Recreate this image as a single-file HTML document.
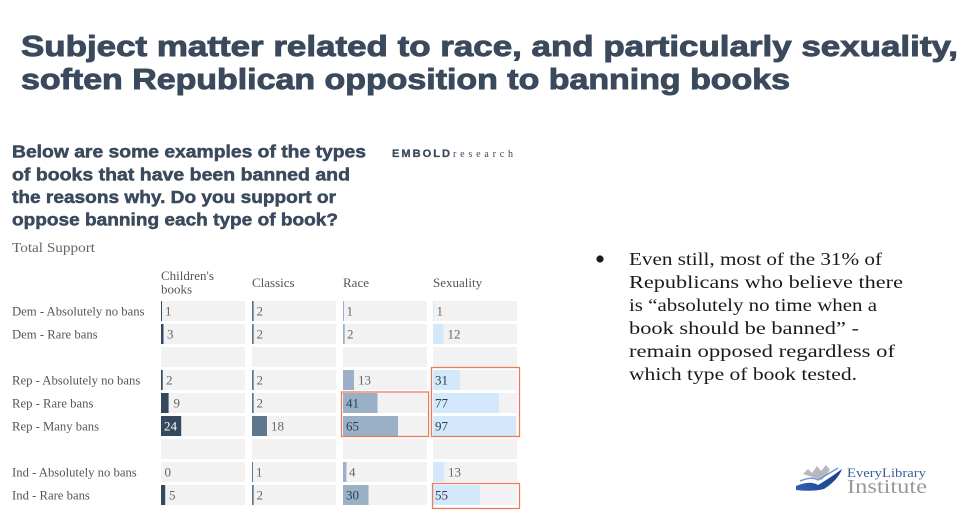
<!DOCTYPE html>
<html><head><meta charset="utf-8"><style>
html,body{margin:0;padding:0;background:#fff;width:974px;height:532px;overflow:hidden}
svg{display:block}
.t{font-family:"Liberation Sans",sans-serif;font-weight:bold;fill:#3a4a5c;stroke:#3a4a5c}
.s{font-family:"Liberation Serif",serif}
</style></head><body>
<svg width="974" height="532" viewBox="0 0 974 532" xmlns="http://www.w3.org/2000/svg">
<rect width="974" height="532" fill="#fff"/>
<!-- Title -->
<text class="t" x="21" y="56" font-size="28.5" stroke-width="0.9" textLength="937" lengthAdjust="spacingAndGlyphs">Subject matter related to race, and particularly sexuality,</text>
<text class="t" x="21" y="89" font-size="28.5" stroke-width="0.9" textLength="769" lengthAdjust="spacingAndGlyphs">soften Republican opposition to banning books</text>
<!-- Subtitle -->
<text class="t" x="12" y="157.5" font-size="17.5" stroke-width="0.5" textLength="354" lengthAdjust="spacingAndGlyphs">Below are some examples of the types</text>
<text class="t" x="12" y="180.5" font-size="17.5" stroke-width="0.5" textLength="338" lengthAdjust="spacingAndGlyphs">of books that have been banned and</text>
<text class="t" x="12" y="203" font-size="17.5" stroke-width="0.5" textLength="324" lengthAdjust="spacingAndGlyphs">the reasons why. Do you support or</text>
<text class="t" x="12" y="225.5" font-size="17.5" stroke-width="0.5" textLength="326" lengthAdjust="spacingAndGlyphs">oppose banning each type of book?</text>
<text class="s" x="12" y="252" font-size="14" fill="#666" textLength="83" lengthAdjust="spacingAndGlyphs">Total Support</text>
<!-- EMBOLD -->
<text x="392" y="157" font-family="Liberation Sans,sans-serif" font-weight="bold" font-size="11" fill="#3a4a5c" stroke="#3a4a5c" stroke-width="0.3" textLength="60" lengthAdjust="spacingAndGlyphs" letter-spacing="2">EMBOLD</text>
<text x="453" y="157" font-family="Liberation Serif,serif" font-size="10" fill="#3a4a5c" textLength="60" lengthAdjust="spacing">research</text>

<!-- Column headers -->
<g class="s" font-size="13" fill="#555">
<text x="161" y="280">Children's</text>
<text x="161" y="293.5">books</text>
<text x="252" y="287">Classics</text>
<text x="343" y="287">Race</text>
<text x="433" y="287">Sexuality</text>
</g>

<!-- Row labels -->
<g class="s" font-size="12.7" fill="#555">
<text x="12" y="315.5">Dem - Absolutely no bans</text>
<text x="12" y="338.5">Dem - Rare bans</text>
<text x="12" y="384.5">Rep - Absolutely no bans</text>
<text x="12" y="407.5">Rep - Rare bans</text>
<text x="12" y="430.5">Rep - Many bans</text>
<text x="12" y="476.5">Ind - Absolutely no bans</text>
<text x="12" y="499.5">Ind - Rare bans</text>
</g>

<!-- Cell backgrounds -->
<g fill="#f2f2f2">
<rect x="161" y="301" width="84" height="20"/><rect x="252" y="301" width="84" height="20"/><rect x="343" y="301" width="84" height="20"/><rect x="433" y="301" width="84" height="20"/>
<rect x="161" y="324" width="84" height="20"/><rect x="252" y="324" width="84" height="20"/><rect x="343" y="324" width="84" height="20"/><rect x="433" y="324" width="84" height="20"/>
<rect x="161" y="347" width="84" height="20"/><rect x="252" y="347" width="84" height="20"/><rect x="343" y="347" width="84" height="20"/><rect x="433" y="347" width="84" height="20"/>
<rect x="161" y="370" width="84" height="20"/><rect x="252" y="370" width="84" height="20"/><rect x="343" y="370" width="84" height="20"/><rect x="433" y="370" width="84" height="20"/>
<rect x="161" y="393" width="84" height="20"/><rect x="252" y="393" width="84" height="20"/><rect x="343" y="393" width="84" height="20"/><rect x="433" y="393" width="84" height="20"/>
<rect x="161" y="416" width="84" height="20"/><rect x="252" y="416" width="84" height="20"/><rect x="343" y="416" width="84" height="20"/><rect x="433" y="416" width="84" height="20"/>
<rect x="161" y="439" width="84" height="20"/><rect x="252" y="439" width="84" height="20"/><rect x="343" y="439" width="84" height="20"/><rect x="433" y="439" width="84" height="20"/>
<rect x="161" y="462" width="84" height="20"/><rect x="252" y="462" width="84" height="20"/><rect x="343" y="462" width="84" height="20"/><rect x="433" y="462" width="84" height="20"/>
<rect x="161" y="485" width="84" height="20"/><rect x="252" y="485" width="84" height="20"/><rect x="343" y="485" width="84" height="20"/><rect x="433" y="485" width="84" height="20"/>
</g>

<!-- Children's bars -->
<g fill="#35495e">
<rect x="161" y="301" width="1" height="20"/>
<rect x="161" y="324" width="2.5" height="20"/>
<rect x="161" y="370" width="1.7" height="20"/>
<rect x="161" y="393" width="7.6" height="20"/>
<rect x="161" y="416" width="20.2" height="20"/>
<rect x="161" y="485" width="4.2" height="20"/>
</g>
<!-- Classics bars -->
<g fill="#5f778c">
<rect x="252" y="301" width="1.7" height="20"/>
<rect x="252" y="324" width="1.7" height="20"/>
<rect x="252" y="370" width="1.7" height="20"/>
<rect x="252" y="393" width="1.7" height="20"/>
<rect x="252" y="416" width="15" height="20"/>
<rect x="252" y="462" width="1" height="20"/>
<rect x="252" y="485" width="1.7" height="20"/>
</g>
<!-- Race bars -->
<g fill="#9ab0c6">
<rect x="343" y="301" width="1" height="20"/>
<rect x="343" y="324" width="1.7" height="20"/>
<rect x="343" y="370" width="11" height="20"/>
<rect x="343" y="393" width="34.5" height="20"/>
<rect x="343" y="416" width="55" height="20"/>
<rect x="343" y="462" width="3.4" height="20"/>
<rect x="343" y="485" width="25.5" height="20"/>
</g>
<!-- Sexuality bars -->
<g fill="#d3e8fa">
<rect x="433" y="301" width="1" height="20"/>
<rect x="433" y="324" width="10.5" height="20"/>
<rect x="433" y="370" width="27" height="20"/>
<rect x="433" y="393" width="66" height="20"/>
<rect x="433" y="416" width="83" height="20"/>
<rect x="433" y="462" width="11" height="20"/>
<rect x="433" y="485" width="47" height="20"/>
</g>

<!-- Value labels outside (gray) -->
<g class="s" font-size="13" fill="#666">
<text x="165" y="315.5">1</text><text x="256.5" y="315.5">2</text><text x="346.5" y="315.5">1</text><text x="436.5" y="315.5">1</text>
<text x="167" y="338.5">3</text><text x="256.5" y="338.5">2</text><text x="347" y="338.5">2</text><text x="447.5" y="338.5">12</text>
<text x="166" y="384.5">2</text><text x="256.5" y="384.5">2</text><text x="358" y="384.5">13</text>
<text x="173.5" y="407.5">9</text><text x="256.5" y="407.5">2</text>
<text x="271" y="430.5">18</text>
<text x="164.5" y="476.5">0</text><text x="256" y="476.5">1</text><text x="349" y="476.5">4</text><text x="448" y="476.5">13</text>
<text x="169" y="499.5">5</text><text x="256.5" y="499.5">2</text>
</g>
<!-- Value labels inside -->
<g class="s" font-size="13" fill="#2c3e50">
<text x="435" y="384.5">31</text>
<text x="346" y="407.5">41</text><text x="435" y="407.5">77</text>
<text x="346" y="430.5">65</text><text x="435" y="430.5">97</text>
<text x="346" y="499.5">30</text><text x="435" y="499.5">55</text>
</g>
<text class="s" x="164" y="430.5" font-size="13" fill="#fff">24</text>

<!-- Highlight boxes -->
<g fill="none" stroke="#ec7a5e" stroke-width="1.3">
<rect x="431.5" y="367.5" width="88" height="69"/>
<rect x="341.5" y="392" width="87" height="44.5"/>
<rect x="432.5" y="483.5" width="87" height="25"/>
</g>

<!-- Bullet text -->
<circle cx="600" cy="259" r="3.6" fill="#1a1a1a"/>
<g class="s" font-size="18" fill="#1a1a1a">
<text x="629" y="265" textLength="253" lengthAdjust="spacingAndGlyphs">Even still, most of the 31% of</text>
<text x="629" y="288" textLength="274" lengthAdjust="spacingAndGlyphs">Republicans who believe there</text>
<text x="629" y="311" textLength="248" lengthAdjust="spacingAndGlyphs">is “absolutely no time when a</text>
<text x="629" y="334" textLength="230" lengthAdjust="spacingAndGlyphs">book should be banned” -</text>
<text x="629" y="357" textLength="266" lengthAdjust="spacingAndGlyphs">remain opposed regardless of</text>
<text x="629" y="380" textLength="228" lengthAdjust="spacingAndGlyphs">which type of book tested.</text>
</g>

<!-- Logo -->
<defs>
<linearGradient id="sw" x1="0" y1="0" x2="1" y2="0">
<stop offset="0" stop-color="#2f5fb0"/><stop offset="1" stop-color="#1a3f8a"/>
</linearGradient>
</defs>
<path d="M803 474 L808 469 L812 473 L817 466 L821 471 L826 465 L830 470 L822 480 Z" fill="#b5b8bd"/>
<path d="M796 486 Q810 480 818 485 Q830 478 842 469 Q838 480 824 489 Q812 492 796 490 Z" fill="url(#sw)"/>
<path d="M800 481 Q812 476 818 480 Q828 474 838 468" fill="none" stroke="#6f96d6" stroke-width="1.5"/>
<text x="847" y="477" font-family="Liberation Serif,serif" font-size="12.5" fill="#3a5a9a" textLength="79" lengthAdjust="spacingAndGlyphs">EveryLibrary</text>
<text x="847" y="493" font-family="Liberation Serif,serif" font-size="20" fill="#9a9a9a" textLength="80" lengthAdjust="spacingAndGlyphs">Institute</text>
</svg>
</body></html>
